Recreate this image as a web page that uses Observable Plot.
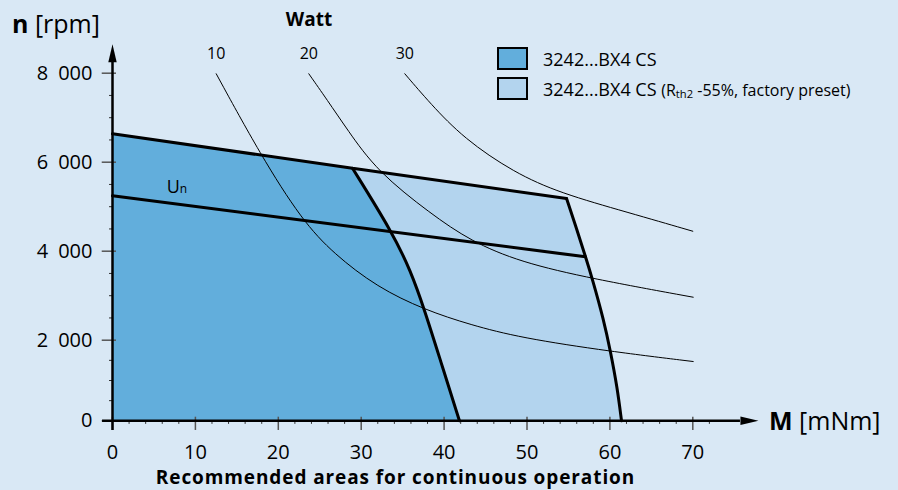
<!DOCTYPE html>
<html>
<head>
<meta charset="utf-8">
<script src="https://cdn.jsdelivr.net/npm/d3@7"></script>
<script src="https://cdn.jsdelivr.net/npm/@observablehq/plot@0.6"></script>
<style>
  html, body { margin: 0; padding: 0; background: #d9e8f5; }
  #wrap { position: relative; width: 898px; height: 490px; overflow: hidden; background: #d9e8f5; font-family: "Open Sans", sans-serif; color: #000; }
  #wrap svg { position: absolute; left: 0; top: 0; }
  .lbl { position: absolute; white-space: nowrap; line-height: 1; }
  #legend { position: absolute; left: 497px; top: 47px; font-size: 18px; }
  .row { display: flex; align-items: center; height: 23px; margin-bottom: 7px; white-space: nowrap; }
  .sw { box-sizing: border-box; width: 31px; height: 23px; border: 2px solid #000; margin-right: 15px; }
  .small { font-size: 16px; }
  .small sub { font-size: 0.7em; vertical-align: -0.2em; line-height: 0; }
</style>
</head>
<body>
<div id="wrap">
  <div class="lbl" style="left:12px; top:11.1px; font-size:25px;"><b>n</b> [rpm]</div>
  <div class="lbl" style="left:259px; width:100px; text-align:center; top:9.8px; font-size:19px; font-weight:bold;">Watt</div>
  <div class="lbl" style="left:769px; top:407.8px; font-size:25px;"><b>M</b> [mNm]</div>
  <div class="lbl" style="left:166.7px; top:176.7px; font-size:18px;">U<span style="font-size:12px;">n</span></div>
  <div class="lbl" style="left:0; width:791px; text-align:center; top:467.8px; font-size:19px; letter-spacing:0.9px; font-weight:bold;">Recommended areas for continuous operation</div>
  <div id="legend">
    <div class="row"><span class="sw" style="background:#62aedc"></span><span>3242...BX4 CS</span></div>
    <div class="row"><span class="sw" style="background:#b3d4ee"></span><span>3242...BX4 CS <span class="small">(R<sub>th2</sub> -55%, factory preset)</span></span></div>
  </div>
</div>
<script>
// ---- data (torque M in mNm, speed n in rpm) ----
const torqueTicks = [0, 10, 20, 30, 40, 50, 60, 70];
const speedTicks = [0, 2000, 4000, 6000, 8000];
const torqueMinor = [2, 4, 6, 8, 12, 14, 16, 18, 22, 24, 26, 28, 32, 34, 36, 38, 42, 44, 46, 48, 52, 54, 56, 58, 62, 64, 66, 68, 72];
const speedMinor = [500, 1000, 1500, 2500, 3000, 3500, 4500, 5000, 5500, 6500, 7000, 7500];

// speed limit line (top boundary)
const limitM = [0, 28.95, 54.77];
const limitN = [6638, 5865, 5184];
// nominal voltage line Un
const unM = [0, 57.06];
const unN = [5245, 3873];
// thermal limit, 3242...BX4 CS
const edgeStdM = [28.95, 33.74, 35.95, 37.64, 39.56, 41.85];
const edgeStdN = [5865, 4427, 3566, 2683, 1496, 0];
// thermal limit, Rth2 -55% (factory preset)
const edgeFacM = [54.77, 56.05, 57.06, 57.87, 59.27, 60.07, 60.88, 61.40];
const edgeFacN = [5184, 4465, 3873, 3387, 2443, 1720, 834, 0];

// constant power curves (Watt)
const wattLabels = [10, 20, 30];
const p10M = [12.51, 17.85, 22.88, 26.69, 31.93, 37.64, 43.18, 49.21, 60.07, 70.05];
const p10N = [7987, 6166, 4690, 3942, 3191, 2683, 2346, 2054, 1720, 1471];
const p20M = [23.68, 25.90, 28.31, 31.93, 38.36, 43.18, 49.21, 57.87, 70.05];
const p20N = [7987, 7398, 6735, 5791, 4847, 4229, 3753, 3380, 2966];
const p30M = [35.26, 38.36, 42.38, 48.41, 54.04, 62.09, 70.00];
const p30N = [7987, 7312, 6533, 5769, 5303, 4876, 4449];

const darkFill = "#62aedc";
const lightFill = "#b3d4ee";

// the drawing's speed axis is compressed slightly below 2 000 rpm
const lowSpan = 80.6 / 89;
const speedAxis = n => (n >= 2000 ? n : 2000 - (2000 - n) * lowSpan);

// ---- build tables ----
const rows = (m, n) => m.map((x, i) => ({M: x, N: n[i]}));
const lightPoly = [{M: 0, N: 0}, ...rows(limitM, limitN), ...rows(edgeFacM, edgeFacN).slice(1)];
const darkPoly = [{M: 0, N: 0}, ...rows(limitM.slice(0, 2), limitN.slice(0, 2)), ...rows(edgeStdM, edgeStdN).slice(1)];
const powerSets = [[p10M, p10N], [p20M, p20N], [p30M, p30N]];
const powerRows = powerSets.flatMap(([m, n], k) => rows(m, n).map(d => ({...d, W: wattLabels[k]})));
const powerStarts = powerSets.map(([m, n], k) => ({M: m[0], N: n[0], W: wattLabels[k]}));

const arrowShape = {
  draw(context, l, r) {
    context.moveTo(-r, 0);
    context.lineTo(0, -l);
    context.lineTo(r, 0);
    context.closePath();
  }
};

const fmt = d => d3.format(",")(d).replace(/,/g, "\u2002");

const chart = Plot.plot({
  width: 898,
  height: 490,
  marginLeft: 112,
  marginRight: 205.7,
  marginTop: 72.7,
  marginBottom: 69.7,
  x: {domain: [0, 70]},
  y: {transform: speedAxis, domain: [speedAxis(0), 8000]},
  style: {background: "transparent", overflow: "visible", fontFamily: "Open Sans", color: "#000"},
  marks: [
    Plot.line(lightPoly, {x: "M", y: "N", fill: lightFill, stroke: "none"}),
    Plot.line(darkPoly, {x: "M", y: "N", fill: darkFill, stroke: "none"}),
    Plot.line(powerRows, {x: "M", y: "N", z: "W", curve: "basis", stroke: "#000", strokeWidth: 1}),
    Plot.line(rows(limitM, limitN), {x: "M", y: "N", stroke: "#000", strokeWidth: 3, strokeLinejoin: "miter"}),
    Plot.line(rows(unM, unN), {x: "M", y: "N", stroke: "#000", strokeWidth: 3}),
    Plot.line(rows(edgeStdM, edgeStdN), {x: "M", y: "N", curve: "basis", stroke: "#000", strokeWidth: 3}),
    Plot.line(rows(edgeFacM, edgeFacN), {x: "M", y: "N", curve: "basis", stroke: "#000", strokeWidth: 3}),
    // ticks
    Plot.ruleX(torqueTicks, {y1: 89, y2: -240, stroke: "#555", strokeWidth: 1.5}),
    Plot.ruleX(torqueMinor, {y1: 0, y2: -89, stroke: "#333", strokeWidth: 1}),
    Plot.ruleY(speedTicks, {x1: -1.24, x2: 0.48, stroke: "#555", strokeWidth: 1.5}),
    Plot.ruleY(speedMinor, {x1: -0.36, x2: 0, stroke: "#333", strokeWidth: 1}),
    // axis lines + arrows
    Plot.ruleX([0], {y1: -240, y2: 8247, stroke: "#000", strokeWidth: 2.5}),
    Plot.ruleY([0], {x1: -1.2, x2: 75.75, stroke: "#000", strokeWidth: 2.5}),
    Plot.vector([{M: 0, N: 8247}], {x: "M", y: "N", length: 18, r: 4.2, rotate: 0, anchor: "start", shape: arrowShape, fill: "#000", stroke: "none"}),
    Plot.vector([{M: 75.75, N: 0}], {x: "M", y: "N", length: 18, r: 4.2, rotate: 90, anchor: "start", shape: arrowShape, fill: "#000", stroke: "none"}),
    // axis labels
    Plot.axisX(torqueTicks, {tickSize: 0, tickPadding: 24, fontSize: 20, label: null}),
    Plot.axisY(speedTicks, {tickSize: 0, tickPadding: 20, fontSize: 20, tickFormat: fmt, label: null}),
    // power curve labels
    Plot.text(powerStarts, {x: "M", y: "N", text: d => String(d.W), dy: -20.4, fontSize: 16, textAnchor: "middle"})
  ]
});
document.getElementById("wrap").prepend(chart);
</script>
</body>
</html>
